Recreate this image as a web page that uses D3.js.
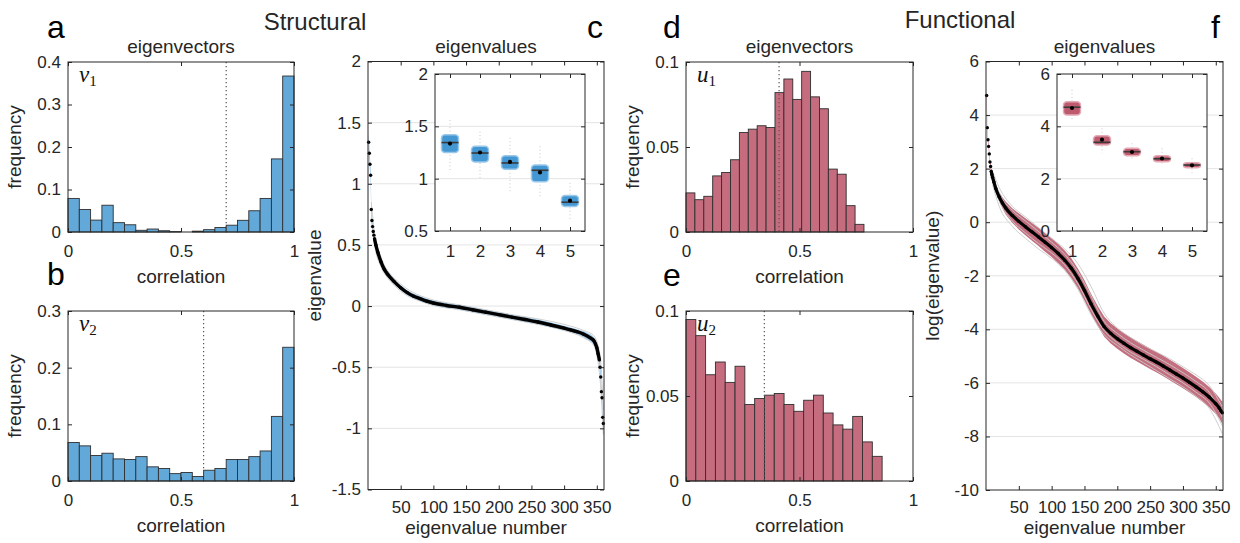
<!DOCTYPE html>
<html>
<head>
<meta charset="utf-8">
<script src="https://cdn.jsdelivr.net/npm/d3@7"></script>
<style>
body { margin: 0; background: #fff; }
</style>
</head>
<body>
<div id="wrapper"></div>
<script>
// ---------- data ----------
// histograms: frequency per bin (20 bins each)
const v1Freq = [0.079, 0.053, 0.028, 0.063, 0.022, 0.017, 0.004, 0.007, 0.003, 0.001,
                0, 0.002, 0.0055, 0.0105, 0.016, 0.0275, 0.050, 0.079, 0.172, 0.367]
const v2Freq = [0.068, 0.062, 0.045, 0.049, 0.039, 0.038, 0.043, 0.025, 0.022, 0.013,
                0.015, 0.008, 0.019, 0.022, 0.038, 0.038, 0.043, 0.053, 0.114, 0.236]
const u1Freq = [0.023, 0.019, 0.021, 0.033, 0.035, 0.0425, 0.0585, 0.0605, 0.0625, 0.0615,
                0.082, 0.090, 0.078, 0.0945, 0.0795, 0.0725, 0.037, 0.034, 0.0155, 0.0045]
const u2Freq = [0.095, 0.0855, 0.0625, 0.070, 0.058, 0.0675, 0.045, 0.0485, 0.0505, 0.0515,
                0.045, 0.041, 0.0475, 0.0505, 0.040, 0.033, 0.0305, 0.038, 0.023, 0.0145]
const v1Bin = 0.05, v2Bin = 0.05, u1Bin = 0.0392, u2Bin = 0.0432
const v1Cut = 0.70, v2Cut = 0.60, u1Cut = 0.41, u2Cut = 0.345

// structural eigenvalues (group curve), rank -> value
const structRank = [1, 2, 3, 4, 5, 6, 7, 8, 9, 10, 12, 15, 20, 25, 30, 40, 50, 60, 70, 80, 90, 100,
                    120, 140, 160, 180, 200, 220, 240, 260, 280, 300, 310, 320, 330, 340,
                    345, 348, 350, 352, 354, 355, 356, 357, 358, 359, 360]
const structEig = [1.34, 1.25, 1.16, 1.07, 0.79, 0.70, 0.65, 0.61, 0.58, 0.55, 0.50, 0.44, 0.36, 0.30, 0.26,
                   0.20, 0.15, 0.11, 0.08, 0.06, 0.04, 0.025,
                   0.005, -0.01, -0.03, -0.05, -0.07, -0.09, -0.11, -0.13, -0.155, -0.18,
                   -0.195, -0.21, -0.23, -0.26, -0.28, -0.31, -0.34, -0.39, -0.44,
                   -0.50, -0.58, -0.70, -0.75, -0.91, -0.96]
const structSpread = [0.08, 0.07, 0.06, 0.07, 0.06, 0.05, 0.04, 0.04, 0.03, 0.03, 0.025, 0.025, 0.025, 0.025, 0.025,
                      0.02, 0.02, 0.02, 0.02, 0.02, 0.02, 0.02,
                      0.02, 0.02, 0.02, 0.02, 0.02, 0.02, 0.02, 0.02, 0.02, 0.02,
                      0.02, 0.02, 0.025, 0.03, 0.03, 0.035, 0.04, 0.04, 0.045,
                      0.05, 0.06, 0.06, 0.06, 0.06, 0.06]
const structGreyRank = [5, 10, 20, 30, 40, 60, 80, 100, 140, 180, 220, 260, 300, 330, 345, 355, 360]
const structGreyA = [0.85, 0.60, 0.40, 0.29, 0.23, 0.14, 0.085, 0.05, 0.01, -0.03, -0.07, -0.105, -0.15, -0.20, -0.24, -0.40, -0.85]
const structGreyB = [0.72, 0.50, 0.32, 0.23, 0.17, 0.085, 0.04, 0.005, -0.03, -0.07, -0.11, -0.15, -0.20, -0.26, -0.32, -0.60, -1.05]

// functional log eigenvalues (group curve)
const funcRank = [1, 2, 3, 4, 5, 6, 7, 8, 9, 10, 12, 15, 20, 25, 30,
                  40, 50, 60, 70, 80, 90, 100, 110, 120, 130, 140, 150, 160, 170, 180, 190, 200,
                  210, 220, 230, 240, 250, 260, 270, 280, 290, 300, 310, 320, 330, 340, 350, 355, 358, 360]
const funcLogEig = [4.73, 3.53, 3.08, 2.83, 2.55, 2.25, 2.08, 1.90, 1.78, 1.68, 1.50, 1.25, 0.95, 0.72, 0.53,
                    0.25, 0.03, -0.17, -0.36, -0.55, -0.75, -0.95, -1.17, -1.42, -1.72, -2.10, -2.55, -3.05,
                    -3.50, -3.90, -4.15, -4.35, -4.52, -4.68, -4.82, -4.96, -5.10, -5.23, -5.37, -5.52,
                    -5.67, -5.82, -5.98, -6.15, -6.33, -6.53, -6.78, -6.93, -7.05, -7.12]
const funcSpread = [0.25, 0.15, 0.12, 0.10, 0.10, 0.10, 0.10, 0.10, 0.10, 0.10, 0.12, 0.15, 0.18, 0.21, 0.24,
                    0.27, 0.30, 0.32, 0.33, 0.34, 0.35, 0.35, 0.36, 0.36, 0.37, 0.37, 0.38, 0.38, 0.38, 0.38,
                    0.38, 0.38, 0.38, 0.38, 0.38, 0.38, 0.38, 0.38, 0.38, 0.38, 0.38, 0.38, 0.38, 0.38, 0.38,
                    0.38, 0.38, 0.38, 0.40, 0.42]
const funcGreyRank = [10, 20, 40, 60, 80, 100, 120, 140, 160, 180, 200, 220, 240, 260, 280, 300, 320, 340, 360]
const funcGreyA = [1.9, 1.3, 0.6, 0.2, -0.2, -0.6, -1.0, -1.55, -2.4, -3.4, -3.95, -4.3, -4.6, -4.85, -5.1, -5.4, -5.7, -6.1, -6.9]
const funcGreyB = [1.8, 1.1, 0.45, 0.05, -0.35, -0.75, -1.2, -1.85, -2.75, -3.7, -4.15, -4.5, -4.78, -5.05, -5.32, -5.62, -5.95, -6.35, -7.3]
const funcGreyC = [1.5, 0.8, 0.05, -0.4, -0.8, -1.15, -1.6, -2.3, -3.25, -4.05, -4.5, -4.85, -5.12, -5.4, -5.7, -6.0, -6.35, -6.75, -7.6]
const funcGreyD = [1.4, 0.6, -0.15, -0.6, -1.0, -1.35, -1.8, -2.5, -3.45, -4.2, -4.6, -4.95, -5.25, -5.55, -5.85, -6.15, -6.5, -6.95, -7.9]

// insets: top five eigenvalues across subjects
const boxIndex = [1, 2, 3, 4, 5]
const structBoxHi = [1.56, 1.45, 1.39, 1.31, 0.96]
const structBoxQ3 = [1.42, 1.31, 1.22, 1.13, 0.84]
const structBoxMed = [1.345, 1.245, 1.15, 1.08, 0.775]
const structBoxQ1 = [1.25, 1.16, 1.09, 0.97, 0.735]
const structBoxLo = [1.07, 0.99, 0.88, 0.83, 0.61]
const structBoxDot = [1.335, 1.25, 1.16, 1.06, 0.79]
const funcBoxHi = [5.39, 3.92, 3.35, 3.16, 2.78]
const funcBoxQ3 = [4.94, 3.64, 3.16, 2.88, 2.61]
const funcBoxMed = [4.73, 3.39, 3.03, 2.76, 2.52]
const funcBoxQ1 = [4.43, 3.29, 2.88, 2.65, 2.42]
const funcBoxLo = [4.24, 2.97, 2.71, 2.52, 2.21]
const funcBoxDot = [4.70, 3.49, 3.02, 2.77, 2.51]

// ---------- drawing ----------
const FONT = '"Liberation Sans", Arial, Helvetica, sans-serif'
const INK = "#262626"
const BLUE = "#62a8d9", RED = "#c56c7e"

const svg = d3.select("#wrapper")
    .append("svg")
    .attr("width", 1240)
    .attr("height", 543)

function txt(g, x, y, s, size, anchor) {
    return g.append("text")
        .attr("x", x).attr("y", y)
        .attr("font-family", FONT)
        .attr("font-size", size)
        .attr("fill", INK)
        .attr("text-anchor", anchor || "middle")
        .text(s)
}

function grid(g, x, y, ticks) {
    const [x0, x1] = x.range()
    g.append("g").selectAll("line").data(ticks).join("line")
        .attr("x1", x0).attr("x2", x1)
        .attr("y1", d => y(d)).attr("y2", d => y(d))
        .attr("stroke", "#e4e4e4")
}

function axes(g, x, y, o) {
    const [x0, x1] = x.range(), [y0, y1] = y.range()
    const a = g.append("g")
    a.append("g").attr("transform", `translate(0,${y0})`)
        .call(d3.axisBottom(x).tickValues(o.xTicks).tickSize(-4).tickPadding(o.xPad).tickFormat(d => d))
    a.append("g").attr("transform", `translate(${x0},0)`)
        .call(d3.axisLeft(y).tickValues(o.yTicks).tickSize(-4).tickPadding(7).tickFormat(d => d))
    a.append("g").attr("transform", `translate(0,${y1})`)
        .call(d3.axisTop(x).tickValues(o.xTicks).tickSize(-4).tickFormat(""))
    a.append("g").attr("transform", `translate(${x1},0)`)
        .call(d3.axisRight(y).tickValues(o.yTicks).tickSize(-4).tickFormat(""))
    a.selectAll(".domain").remove()
    a.selectAll(".tick line").attr("stroke", INK)
    a.selectAll(".tick text")
        .attr("font-size", 17).attr("font-family", FONT).attr("fill", INK)
    a.append("rect")
        .attr("x", x0).attr("y", y1)
        .attr("width", x1 - x0).attr("height", y0 - y1)
        .attr("fill", "none").attr("stroke", INK)
}

function ylabel(g, x, yMid, s) {
    g.append("text")
        .attr("transform", `translate(${x},${yMid}) rotate(-90)`)
        .attr("font-family", FONT).attr("font-size", 19).attr("fill", INK)
        .attr("text-anchor", "middle")
        .text(s)
}

function mathLabel(g, x, y, sym, sub) {
    const t = g.append("text").attr("x", x).attr("y", y)
        .attr("font-family", '"Liberation Serif", "DejaVu Serif", serif').attr("fill", "#111")
    t.append("tspan").attr("font-size", 23).attr("font-style", "italic").text(sym)
    t.append("tspan").attr("font-size", 15).attr("dy", 4).text(sub)
}

// histogram panel
function histPanel(o) {
    const g = svg.append("g")
    const x = d3.scaleLinear().domain([0, 1]).range([o.left, o.right])
    const y = d3.scaleLinear().domain([0, o.yMax]).range([o.bottom, o.top])

    g.selectAll("rect.bar").data(o.freq).join("rect")
        .attr("class", "bar")
        .attr("x", (d, i) => x(i * o.bin))
        .attr("width", (d, i) => x((i + 1) * o.bin) - x(i * o.bin))
        .attr("y", d => y(d))
        .attr("height", d => y(0) - y(d))
        .attr("fill", o.fill)
        .attr("stroke", "#2f2f2f")
        .attr("stroke-width", 0.9)

    g.append("line")
        .attr("x1", x(o.cut)).attr("x2", x(o.cut))
        .attr("y1", o.top).attr("y2", o.bottom)
        .attr("stroke", "#555").attr("stroke-width", 1.2)
        .attr("stroke-dasharray", "1.3,2.7")

    axes(g, x, y, { xTicks: [0, 0.5, 1], yTicks: o.yTicks, xPad: 12.5 })
    mathLabel(g, o.left + 11, o.top + 20, o.sym, o.sub)
    ylabel(g, o.left - 47, (o.top + o.bottom) / 2, "frequency")
    txt(g, (o.left + o.right) / 2, o.bottom + 51, "correlation", 19)
    if (o.title) txt(g, (o.left + o.right) / 2, o.top - 9, o.title, 19)
}

// eigenvalue spectrum panel
function spectrumPanel(o) {
    const g = svg.append("g")
    const x = d3.scaleLinear().domain([0, 361]).range([o.left, o.right])
    const y = d3.scaleLinear().domain(o.yDom).range([o.bottom, o.top])
    grid(g, x, y, o.yTicks.slice(1, -1))

    const pts = o.rank.map((r, i) => ({ r, v: o.val[i], s: o.spread[i] }))
    const band = d3.area()
        .x(d => x(d.r))
        .y0(d => y(d.v - d.s))
        .y1(d => y(d.v + d.s))
    g.append("path").attr("d", band(pts))
        .attr("fill", o.bandFill).attr("opacity", o.bandOpacity)

    const greyLine = d3.line().x(d => x(d.r)).y(d => y(d.v)).curve(d3.curveMonotoneX)
    o.greys.forEach(arr => {
        g.append("path")
            .attr("d", greyLine(o.greyRank.map((r, i) => ({ r, v: arr[i] }))))
            .attr("fill", "none").attr("stroke", "#c9c9c9").attr("stroke-width", 0.9)
    })

    const meanLine = d3.line().x(d => x(d.r)).y(d => y(d.v)).curve(d3.curveMonotoneX)
    g.append("path")
        .attr("d", meanLine(pts.filter(d => d.r >= o.lineFrom && d.r <= o.lineTo)))
        .attr("fill", "none").attr("stroke", "#000").attr("stroke-width", o.lineWidth)
    g.selectAll("circle").data(pts).join("circle")
        .attr("cx", d => x(d.r)).attr("cy", d => y(d.v))
        .attr("r", 1.7).attr("fill", "#000")

    axes(g, x, y, { xTicks: [50, 100, 150, 200, 250, 300, 350], yTicks: o.yTicks, xPad: 11 })
    ylabel(g, o.left - 47, (o.top + o.bottom) / 2, o.ylab)
    txt(g, (o.left + o.right) / 2, o.bottom + 44, "eigenvalue number", 19)
    txt(g, (o.left + o.right) / 2, o.top - 9, "eigenvalues", 19)
}

// inset with the top five eigenvalues
function insetPanel(o) {
    const g = svg.append("g")
    const x = d3.scaleLinear().domain([0.5, 5.5]).range([o.left, o.right])
    const y = d3.scaleLinear().domain(o.yDom).range([o.bottom, o.top])
    g.append("rect")
        .attr("x", o.left).attr("y", o.top)
        .attr("width", o.right - o.left).attr("height", o.bottom - o.top)
        .attr("fill", "#fff")
    grid(g, x, y, o.yTicks.slice(1, -1))

    const bw = 17
    const boxes = boxIndex.map((k, i) => ({
        k, hi: o.hi[i], q3: o.q3[i], med: o.med[i], q1: o.q1[i], lo: o.lo[i], dot: o.dot[i]
    }))
    g.selectAll("line.whisker").data(boxes).join("line")
        .attr("class", "whisker")
        .attr("x1", d => x(d.k)).attr("x2", d => x(d.k))
        .attr("y1", d => y(d.hi)).attr("y2", d => y(d.lo))
        .attr("stroke", "#c8c8c8").attr("stroke-dasharray", "1,2.5")
    g.selectAll("rect.box").data(boxes).join("rect")
        .attr("class", "box")
        .attr("x", d => x(d.k) - bw / 2).attr("width", bw)
        .attr("y", d => y(d.q3)).attr("height", d => y(d.q1) - y(d.q3))
        .attr("rx", 3.5)
        .attr("fill", o.fill).attr("stroke", o.edge).attr("stroke-width", 1.5)
    g.selectAll("line.med").data(boxes).join("line")
        .attr("class", "med")
        .attr("x1", d => x(d.k) - bw / 2).attr("x2", d => x(d.k) + bw / 2)
        .attr("y1", d => y(d.med)).attr("y2", d => y(d.med))
        .attr("stroke", "#3b3b3b").attr("stroke-width", 1.6)
    g.selectAll("circle").data(boxes).join("circle")
        .attr("cx", d => x(d.k)).attr("cy", d => y(d.dot))
        .attr("r", 2.1).attr("fill", "#000")

    axes(g, x, y, { xTicks: boxIndex, yTicks: o.yTicks, xPad: 13.5 })
}

// ---------- panels ----------
histPanel({ left: 68, right: 294, top: 62, bottom: 232, yMax: 0.4, yTicks: [0, 0.1, 0.2, 0.3, 0.4],
            freq: v1Freq, bin: v1Bin, cut: v1Cut, fill: BLUE, sym: "v", sub: "1", title: "eigenvectors" })
histPanel({ left: 68, right: 294, top: 311, bottom: 481, yMax: 0.3, yTicks: [0, 0.1, 0.2, 0.3],
            freq: v2Freq, bin: v2Bin, cut: v2Cut, fill: BLUE, sym: "v", sub: "2" })
histPanel({ left: 686, right: 913, top: 62, bottom: 232, yMax: 0.1, yTicks: [0, 0.05, 0.1],
            freq: u1Freq, bin: u1Bin, cut: u1Cut, fill: RED, sym: "u", sub: "1", title: "eigenvectors" })
histPanel({ left: 686, right: 913, top: 311, bottom: 481, yMax: 0.1, yTicks: [0, 0.05, 0.1],
            freq: u2Freq, bin: u2Bin, cut: u2Cut, fill: RED, sym: "u", sub: "2" })

spectrumPanel({ left: 368, right: 604, top: 61.5, bottom: 489.5, yDom: [-1.5, 2],
                yTicks: [-1.5, -1, -0.5, 0, 0.5, 1, 1.5, 2],
                rank: structRank, val: structEig, spread: structSpread,
                greyRank: structGreyRank, greys: [structGreyA, structGreyB],
                bandFill: "#8fc0e6", bandOpacity: 0.9, lineFrom: 10, lineTo: 354, lineWidth: 3.4,
                ylab: "eigenvalue" })
spectrumPanel({ left: 986, right: 1223, top: 61.5, bottom: 490, yDom: [-10, 6],
                yTicks: [-10, -8, -6, -4, -2, 0, 2, 4, 6],
                rank: funcRank, val: funcLogEig, spread: funcSpread,
                greyRank: funcGreyRank, greys: [funcGreyA, funcGreyB, funcGreyC, funcGreyD],
                bandFill: "#b9566a", bandOpacity: 0.85, lineFrom: 8, lineTo: 360, lineWidth: 3.2,
                ylab: "log(eigenvalue)" })

insetPanel({ left: 435, right: 585, top: 74, bottom: 231, yDom: [0.5, 2], yTicks: [0.5, 1, 1.5, 2],
             hi: structBoxHi, q3: structBoxQ3, med: structBoxMed, q1: structBoxQ1, lo: structBoxLo, dot: structBoxDot,
             fill: "#4397d3", edge: "#9cc8ea" })
insetPanel({ left: 1057, right: 1207, top: 74, bottom: 231, yDom: [0, 6], yTicks: [0, 2, 4, 6],
             hi: funcBoxHi, q3: funcBoxQ3, med: funcBoxMed, q1: funcBoxQ1, lo: funcBoxLo, dot: funcBoxDot,
             fill: "#bd5a6e", edge: "#e4aab6" })

// headings and panel letters
const heads = svg.append("g")
txt(heads, 315, 30, "Structural", 24)
txt(heads, 960, 28, "Functional", 24)
const letters = [["a", 47, 38], ["b", 47, 285], ["c", 587, 38], ["d", 663, 38], ["e", 663, 286], ["f", 1211, 38]]
letters.forEach(([s, x, y]) => txt(heads, x, y, s, 32, "start").attr("fill", "#000"))
</script>
</body>
</html>
